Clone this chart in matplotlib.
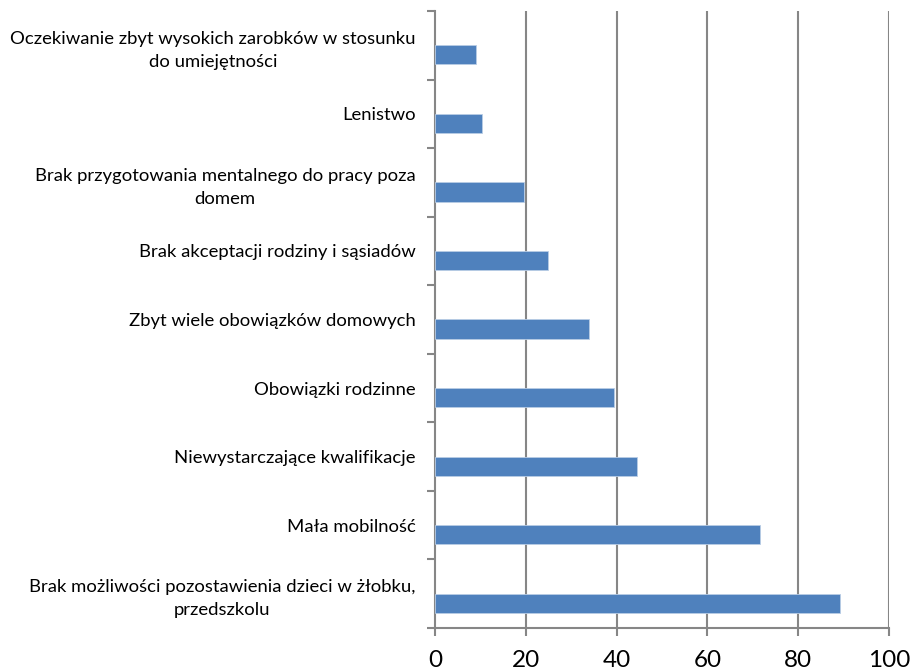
import numpy as np
import matplotlib.pyplot as plt

# categories bottom -> top
categories = [
    "Brak możliwości pozostawienia dzieci w żłobku,\nprzedszkolu",
    "Mała mobilność",
    "Niewystarczające kwalifikacje",
    "Obowiązki rodzinne",
    "Zbyt wiele obowiązków domowych",
    "Brak akceptacji rodziny i sąsiadów",
    "Brak przygotowania mentalnego do pracy poza\ndomem",
    "Lenistwo",
    "Oczekiwanie zbyt wysokich zarobków w stosunku\ndo umiejętności",
]
values = [89.1, 71.5, 44.5, 39.5, 34.0, 24.9, 19.5, 10.4, 9.0]
xticks = [0, 20, 40, 60, 80, 100]

plt.rcParams['font.family'] = ['Lato', 'DejaVu Sans']

fig = plt.figure(figsize=(9.11, 6.70), dpi=100)
ax = fig.add_axes([0.4775, 0.0627, 0.4984, 0.9209])

grid_col = '#868686'
y = np.arange(len(categories))
ax.barh(y - 0.14, values, height=0.28, color='#4F81BD',
        edgecolor='#B9CDE5', linewidth=0.6, zorder=3)

ax.set_xlim(0, 100)
ax.set_ylim(-0.5, len(categories) - 0.5)
ax.set_xticks(xticks)
ax.set_xticklabels([str(t) for t in xticks], fontsize=17.5)
for t in xticks[1:]:
    ax.axvline(t, color=grid_col, lw=1.5, zorder=1)

ax.set_yticks(y)
ax.set_yticklabels(categories, fontsize=13.3, multialignment='center',
                   linespacing=1.55)
ax.tick_params(axis='y', length=0, pad=14)
ax.set_yticks(np.arange(len(categories) + 1) - 0.5, minor=True)
ax.tick_params(axis='y', which='minor', length=6, width=1.5, color=grid_col)
ax.tick_params(axis='x', length=6, width=1.5, color=grid_col, pad=10)

for s in ['top', 'right']:
    ax.spines[s].set_visible(False)
for s in ['left', 'bottom']:
    ax.spines[s].set_color(grid_col)
    ax.spines[s].set_linewidth(1.5)

fig.savefig('out.png', dpi=100)
